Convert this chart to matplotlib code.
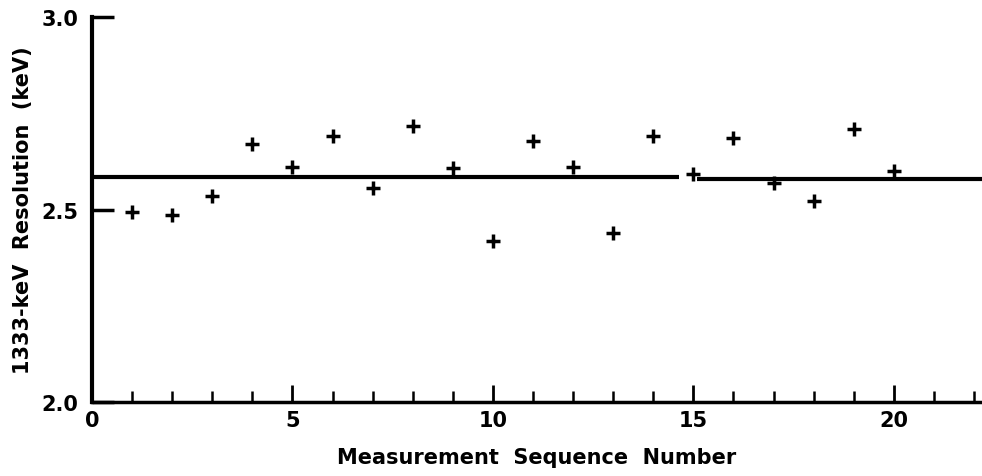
import matplotlib.pyplot as plt
from matplotlib.ticker import MultipleLocator

seq = list(range(1, 21))
res = [2.494, 2.486, 2.535, 2.670, 2.610, 2.691, 2.556, 2.717, 2.608, 2.418,
       2.678, 2.610, 2.439, 2.691, 2.592, 2.686, 2.569, 2.522, 2.709, 2.600]
mean_x1 = [0, 14.65]
mean_x2 = [15.1, 22.2]
mean_y = 2.584

plt.rcParams['font.family'] = 'DejaVu Sans'
plt.rcParams['font.weight'] = 'bold'

fig = plt.figure(figsize=(9.82, 4.77), dpi=100)
ax = fig.add_axes([0.0937, 0.155, 0.9063, 0.807])

ax.plot(seq, res, '+', color='black', markersize=10, mew=2.5, clip_on=False)
ax.plot(mean_x1, [mean_y, mean_y], color='black', lw=3, solid_capstyle='butt')
ax.plot(mean_x2, [mean_y - 0.004, mean_y - 0.004], color='black', lw=3,
        solid_capstyle='butt')

ax.set_xlim(0, 22.2)
ax.set_ylim(2.0, 3.0)
ax.set_yticks([2.0, 2.5, 3.0])
ax.set_yticklabels(['2.0', '2.5', '3.0'])
ax.set_xticks([0, 5, 10, 15, 20])
ax.xaxis.set_minor_locator(MultipleLocator(1))

for s in ['top', 'right']:
    ax.spines[s].set_visible(False)
ax.spines['left'].set_linewidth(3)
ax.spines['bottom'].set_linewidth(2.5)

ax.tick_params(axis='y', direction='in', length=16, width=2.5, labelsize=15, pad=10)
ax.tick_params(axis='x', which='major', direction='in', length=12, width=2,
               labelsize=15, pad=6)
ax.tick_params(axis='x', which='minor', direction='in', length=8, width=1.8)

ax.set_xlabel('Measurement  Sequence  Number', fontsize=15, fontweight='bold', labelpad=12)
ax.set_ylabel('1333-keV  Resolution  (keV)', fontsize=15, fontweight='bold', labelpad=6)

fig.savefig('out.png', dpi=100)
